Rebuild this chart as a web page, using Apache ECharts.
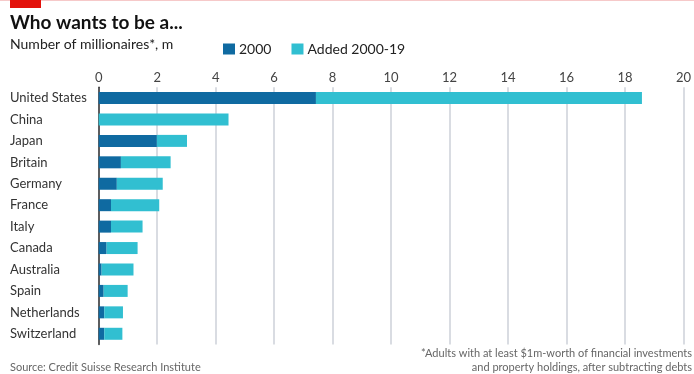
<!DOCTYPE html>
<html>
<head>
<meta charset="utf-8">
<script src="https://cdn.jsdelivr.net/npm/echarts@6/dist/echarts.min.js"></script>
<style>
  html, body { margin: 0; padding: 0; background: #fff; }
  #chart { width: 694px; height: 374px; }
</style>
</head>
<body>
<div id="chart"></div>
<script>
const countries = ['United States', 'China', 'Japan', 'Britain', 'Germany', 'France',
  'Italy', 'Canada', 'Australia', 'Spain', 'Netherlands', 'Switzerland'];
// millions of millionaires in 2000
const in2000 = [7.43, 0, 1.99, 0.76, 0.62, 0.42, 0.42, 0.27, 0.1, 0.17, 0.19, 0.19];
// added between 2000 and 2019
const added = [11.15, 4.44, 1.03, 1.70, 1.57, 1.65, 1.08, 1.06, 1.09, 0.82, 0.64, 0.62];
const xTicks = [0, 2, 4, 6, 8, 10, 12, 14, 16, 18, 20];

const DARK = '#0f6aa1';
const LIGHT = '#31bfd1';
const FONT = 'Lato, "Open Sans", sans-serif';

const chart = echarts.init(document.getElementById('chart'));

chart.setOption({
  animation: false,
  textStyle: { fontFamily: FONT },
  graphic: [
    { type: 'rect', left: 0, top: 0, shape: { width: 694, height: 1 }, style: { fill: '#f6c9c9' } },
    { type: 'rect', left: 10, top: 0, shape: { width: 31, height: 8 }, style: { fill: '#e3120b' } },
    {
      type: 'text', left: 10, top: 13,
      style: { text: 'Who wants to be a...', font: 'bold 19px ' + FONT, fill: '#111' }
    },
    {
      type: 'text', left: 10, top: 37,
      style: { text: 'Number of millionaires*, m', font: '14px ' + FONT, fill: '#222' }
    },
    {
      type: 'text', left: 10, top: 362,
      style: { text: 'Source: Credit Suisse Research Institute', font: '11px ' + FONT, fill: '#666' }
    },
    {
      type: 'text', right: 2, top: 348,
      style: { text: '*Adults with at least $1m-worth of financial investments', font: '11px ' + FONT, fill: '#666' }
    },
    {
      type: 'text', right: 2, top: 362,
      style: { text: 'and property holdings, after subtracting debts', font: '11px ' + FONT, fill: '#666' }
    }
  ],
  legend: {
    left: 218, top: 37,
    itemWidth: 12, itemHeight: 11, itemGap: 20,
    icon: 'rect',
    textStyle: { fontSize: 14, color: '#222', padding: [0, 0, 0, -1] },
    data: ['2000', 'Added 2000-19']
  },
  grid: { left: 98.7, right: 6, top: 87.3, bottom: 29.5, containLabel: false },
  xAxis: {
    type: 'value',
    position: 'top',
    min: 0, max: 20, interval: 2,
    axisLine: { show: false },
    axisTick: { show: false },
    axisLabel: {
      color: '#444', fontSize: 13, margin: 3,
      formatter: v => (xTicks.includes(v) ? String(v) : '')
    },
    splitLine: { lineStyle: { color: '#cdd1d8', width: 1.5 } }
  },
  yAxis: {
    type: 'category',
    inverse: true,
    data: countries,
    axisLine: { show: true, lineStyle: { color: '#333', width: 1.5 } },
    axisTick: { show: false },
    axisLabel: { color: '#333', fontSize: 13, align: 'left', margin: 88.7 }
  },
  series: [
    {
      name: '2000', type: 'bar', stack: 'total', data: in2000,
      barWidth: 12, itemStyle: { color: DARK }
    },
    {
      name: 'Added 2000-19', type: 'bar', stack: 'total', data: added,
      barWidth: 12, itemStyle: { color: LIGHT }
    }
  ]
});
</script>
</body>
</html>
